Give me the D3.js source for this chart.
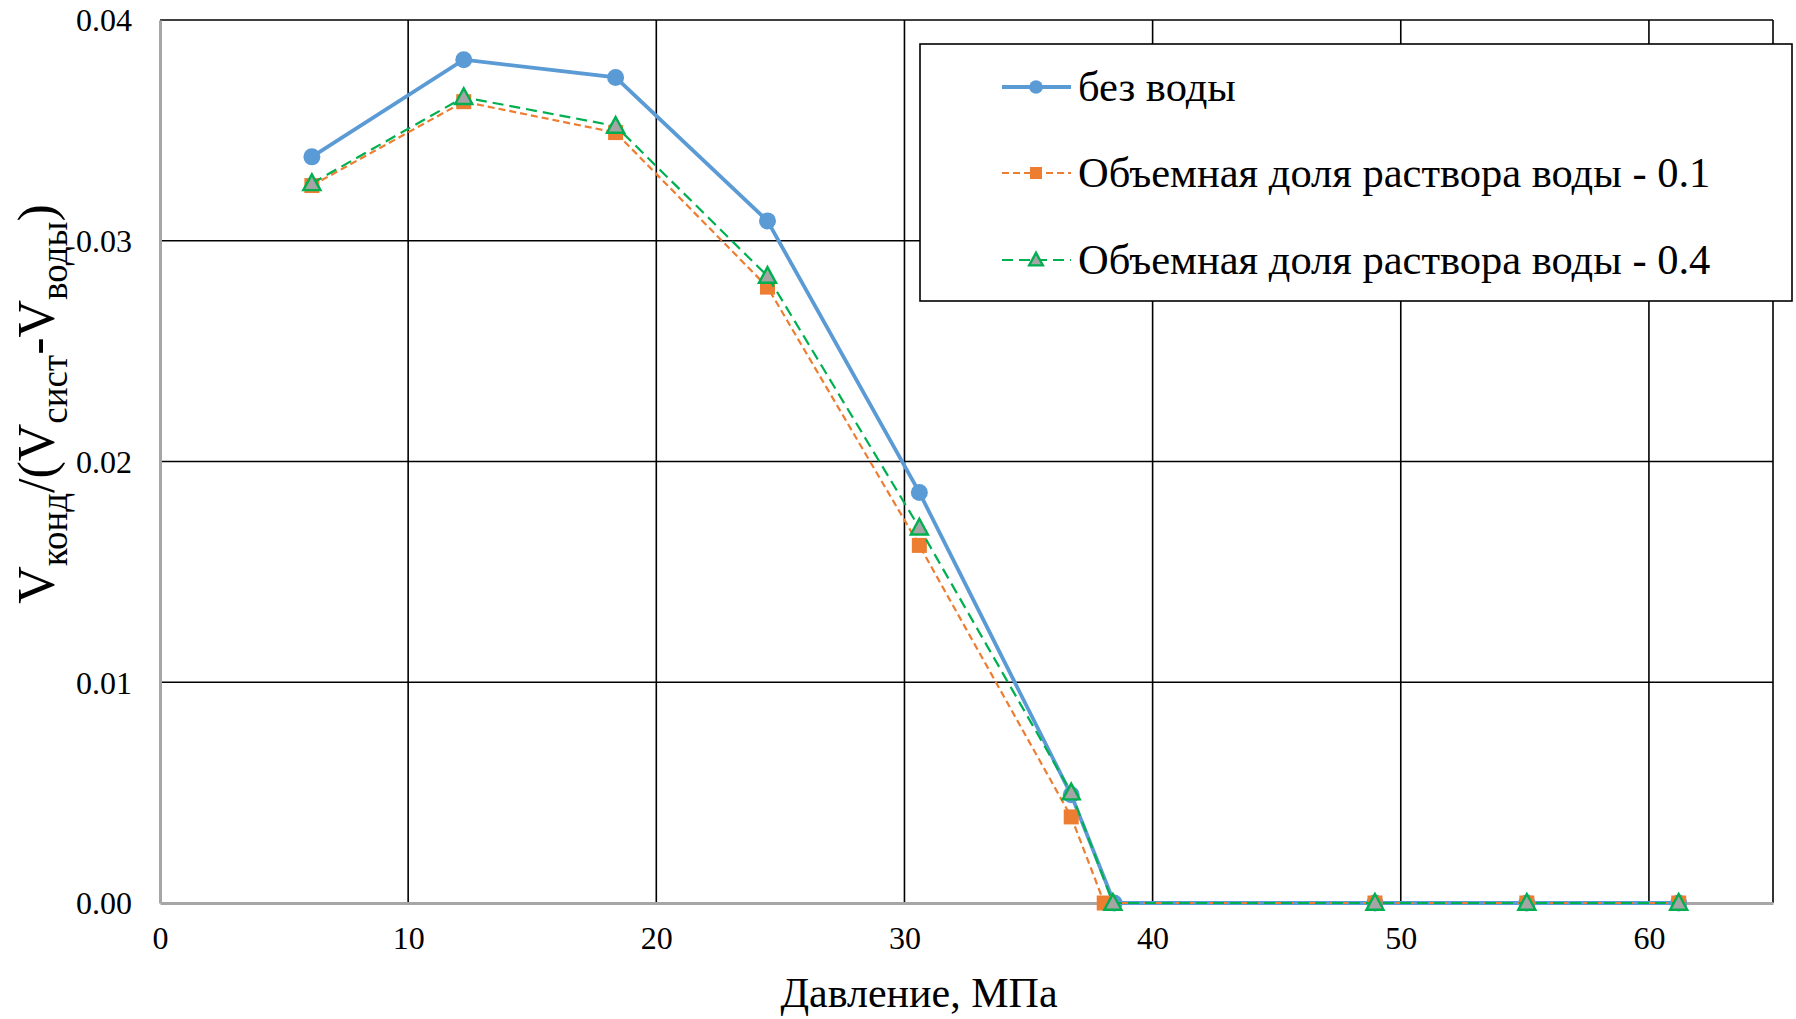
<!DOCTYPE html>
<html>
<head>
<meta charset="utf-8">
<script src="https://cdn.jsdelivr.net/npm/d3@7"></script>
<style>
  body { margin: 0; background: #fff; }
  text { font-family: "Liberation Serif", "Times New Roman", "DejaVu Serif", serif; }
</style>
</head>
<body>
<svg id="chart" width="1796" height="1019"></svg>
<script>
// data
const pressureDry  = [6.12, 12.24, 18.36, 24.48, 30.6, 36.72, 38.45, 48.96, 55.08, 61.2];
const condDry      = [0.0338, 0.0382, 0.0374, 0.0309, 0.0186, 0.0049, 0, 0, 0, 0];
const pressureW01  = [6.12, 12.24, 18.36, 24.48, 30.6, 36.72, 38.05, 48.96, 55.08, 61.2];
const condW01      = [0.0325, 0.0363, 0.0349, 0.0279, 0.0162, 0.0039, 0, 0, 0, 0];
const pressureW04  = [6.12, 12.24, 18.36, 24.48, 30.6, 36.72, 38.4, 48.96, 55.08, 61.2];
const condW04      = [0.0326, 0.0365, 0.0352, 0.0284, 0.0170, 0.0050, 0, 0, 0, 0];
const seriesNames  = ['без воды', 'Объемная доля раствора воды - 0.1', 'Объемная доля раствора воды - 0.4'];
const xTicks = [0, 10, 20, 30, 40, 50, 60];
const yTicks = [0, 0.01, 0.02, 0.03, 0.04];

const series = [
  {name: seriesNames[0], xs: pressureDry, ys: condDry, color: '#5b9bd5', width: 3.8, dash: null, marker: 'circle'},
  {name: seriesNames[1], xs: pressureW01, ys: condW01, color: '#ed7d31', width: 2.2, dash: '7,4', marker: 'square'},
  {name: seriesNames[2], xs: pressureW04, ys: condW04, color: '#00b050', width: 2.2, dash: '11,6', marker: 'triangle'}
];

const serif = 'Liberation Serif, Times New Roman, DejaVu Serif, serif';
const svg = d3.select('#chart').attr('font-family', serif);
const plot = {left: 160, right: 1773, top: 20, bottom: 903};

const x = d3.scaleLinear().domain([0, 65]).range([plot.left, plot.right]);
const y = d3.scaleLinear().domain([0, 0.04]).range([plot.bottom, plot.top]);

// gridlines
svg.append('g')
   .selectAll('line')
   .data(xTicks.filter(d => d > 0).concat([65]))
   .enter().append('line')
   .attr('x1', d => x(d)).attr('x2', d => x(d))
   .attr('y1', plot.top).attr('y2', plot.bottom)
   .attr('stroke', '#000').attr('stroke-width', 1.6);

svg.append('g')
   .selectAll('line')
   .data(yTicks.filter(d => d > 0))
   .enter().append('line')
   .attr('x1', plot.left).attr('x2', plot.right)
   .attr('y1', d => y(d)).attr('y2', d => y(d))
   .attr('stroke', '#000').attr('stroke-width', 1.6);

// axes (grey lines, no ticks)
const xAxis = svg.append('g')
   .attr('transform', `translate(0,${plot.bottom})`)
   .call(d3.axisBottom(x).tickValues(xTicks).tickSize(0).tickPadding(23).tickFormat(d3.format('d')));
const yAxis = svg.append('g')
   .attr('transform', `translate(${plot.left},0)`)
   .call(d3.axisLeft(y).tickValues(yTicks).tickSize(0).tickPadding(28)
         .tickFormat(d => d === 0 ? '0.00' : d3.format('.2')(d)));

[xAxis, yAxis].forEach(a => {
  a.attr('font-family', serif);
  a.select('.domain').attr('stroke', '#a6a6a6').attr('stroke-width', 3);
  a.selectAll('text').attr('font-size', 32).attr('fill', '#000');
});
yAxis.selectAll('text').attr('dy', '0.34em');

// series
const line = d3.line().x(d => x(d[0])).y(d => y(d[1]));

function drawMarker(g, type, color, cx, cy, scale) {
  const s = scale || 1;
  if (type === 'circle') {
    g.append('circle').attr('cx', cx).attr('cy', cy).attr('r', 8.5 * s).attr('fill', color);
  } else if (type === 'square') {
    g.append('rect').attr('x', cx - 7.5 * s).attr('y', cy - 7.5 * s)
     .attr('width', 15 * s).attr('height', 15 * s).attr('fill', color);
  } else {
    const h = 9 * s;
    g.append('path')
     .attr('d', `M${cx},${cy - h}L${cx + h * 0.95},${cy + h * 0.75}L${cx - h * 0.95},${cy + h * 0.75}Z`)
     .attr('fill', '#a5a5a5').attr('stroke', color).attr('stroke-width', 2.4);
  }
}

series.forEach(s => {
  const pts = s.xs.map((v, i) => [v, s.ys[i]]);
  svg.append('path')
     .datum(pts)
     .attr('fill', 'none')
     .attr('stroke', s.color)
     .attr('stroke-width', s.width)
     .attr('stroke-dasharray', s.dash)
     .attr('d', line);
  const g = svg.append('g');
  pts.forEach(p => drawMarker(g, s.marker, s.color, x(p[0]), y(p[1])));
});

// axis titles
svg.append('text')
   .attr('x', 919).attr('y', 1007)
   .attr('text-anchor', 'middle')
   .attr('font-size', 42)
   .text('Давление, МПа');

const yt = svg.append('text')
   .attr('transform', 'translate(54,404) rotate(-90)')
   .attr('text-anchor', 'middle')
   .attr('font-size', 52);
const parts = [['V', 0], ['конд', 1], ['/(V', 0], ['сист', 1], ['-V', 0], ['воды', 1], [')', 0]];
let shifted = false;
parts.forEach(([t, sub]) => {
  const ts = yt.append('tspan').text(t);
  if (sub) { ts.attr('font-size', 37).attr('dy', 13); shifted = true; }
  else if (shifted) { ts.attr('dy', -13); shifted = false; }
});

// legend
const lg = svg.append('g');
lg.append('rect')
  .attr('x', 920).attr('y', 44).attr('width', 872).attr('height', 257)
  .attr('fill', '#fff').attr('stroke', '#000').attr('stroke-width', 1.6);
const legendY = [87, 173, 260];
series.forEach((s, i) => {
  const ly = legendY[i];
  lg.append('line').attr('x1', 1002).attr('x2', 1071).attr('y1', ly).attr('y2', ly)
    .attr('stroke', s.color).attr('stroke-width', s.width).attr('stroke-dasharray', s.dash);
  drawMarker(lg, s.marker, s.color, 1036, ly, 0.8);
  lg.append('text').attr('x', 1078).attr('y', ly + 14)
    .attr('font-size', 42.5).text(s.name);
});
</script>
</body>
</html>
